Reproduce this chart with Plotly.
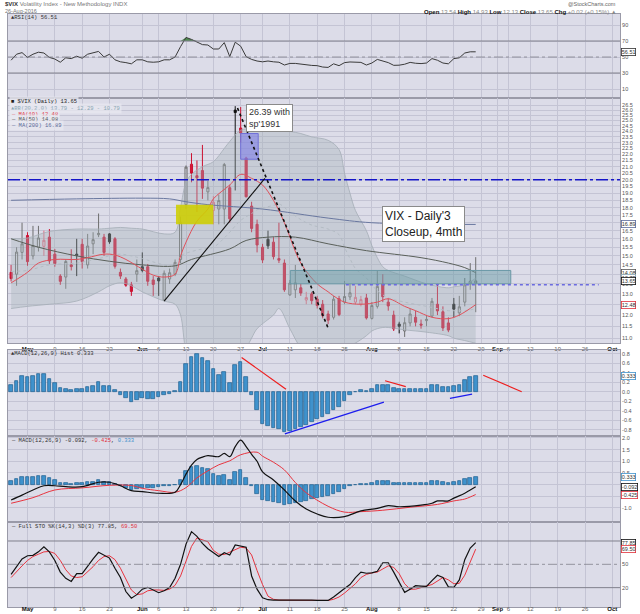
import math

import plotly.graph_objects as go
from plotly.subplots import make_subplots

# trading days shown on the chart
days = ["2016-04-27", "2016-04-28", "2016-04-29",
        "2016-05-02", "2016-05-03", "2016-05-04", "2016-05-05", "2016-05-06",
        "2016-05-09", "2016-05-10", "2016-05-11", "2016-05-12", "2016-05-13",
        "2016-05-16", "2016-05-17", "2016-05-18", "2016-05-19", "2016-05-20",
        "2016-05-23", "2016-05-24", "2016-05-25", "2016-05-26", "2016-05-27",
        "2016-05-31", "2016-06-01", "2016-06-02", "2016-06-03",
        "2016-06-06", "2016-06-07", "2016-06-08", "2016-06-09", "2016-06-10",
        "2016-06-13", "2016-06-14", "2016-06-15", "2016-06-16", "2016-06-17",
        "2016-06-20", "2016-06-21", "2016-06-22", "2016-06-23", "2016-06-24",
        "2016-06-27", "2016-06-28", "2016-06-29", "2016-06-30", "2016-07-01",
        "2016-07-05", "2016-07-06", "2016-07-07", "2016-07-08",
        "2016-07-11", "2016-07-12", "2016-07-13", "2016-07-14", "2016-07-15",
        "2016-07-18", "2016-07-19", "2016-07-20", "2016-07-21", "2016-07-22",
        "2016-07-25", "2016-07-26", "2016-07-27", "2016-07-28", "2016-07-29",
        "2016-08-01", "2016-08-02", "2016-08-03", "2016-08-04", "2016-08-05",
        "2016-08-08", "2016-08-09", "2016-08-10", "2016-08-11", "2016-08-12",
        "2016-08-15", "2016-08-16", "2016-08-17", "2016-08-18", "2016-08-19",
        "2016-08-22", "2016-08-23", "2016-08-24", "2016-08-25", "2016-08-26"]
holidays = ["2016-05-30", "2016-07-04", "2016-09-05"]

opens = [14.10, 14.00, 15.20, 16.20, 15.00, 15.50, 15.55, 16.10, 15.10, 13.90,
         13.85, 14.50, 15.10, 15.67, 14.50, 15.70, 16.25, 16.10, 16.30, 16.00,
         14.10, 13.75, 13.45, 14.00, 14.40, 14.40, 13.70, 13.80, 12.70, 13.75,
         14.00, 14.80, 18.20, 21.20, 20.30, 20.70, 19.10, 17.80, 17.90, 17.90,
         19.40, 26.00, 24.30, 21.70, 18.10, 16.90, 15.50, 15.97, 15.80, 14.85,
         14.60, 12.95, 13.20, 13.30, 12.70, 13.00, 12.75, 12.50, 12.05, 11.90,
         12.76, 12.60, 12.85, 12.60, 12.50, 12.80, 11.85, 12.40, 13.50, 12.60,
         12.00, 11.60, 11.30, 11.65, 11.90, 11.60, 11.75, 11.95, 12.50, 12.15,
         11.65, 12.50, 12.10, 12.60, 13.50, 13.54]
highs = [14.50, 15.50, 17.00, 16.40, 16.80, 16.80, 16.50, 16.60, 15.40, 14.00,
         14.80, 15.38, 16.00, 16.00, 16.30, 16.40, 17.60, 16.30, 16.35, 16.10,
         14.30, 13.85, 13.60, 14.80, 15.20, 14.55, 13.90, 13.90, 14.20, 14.30,
         14.80, 17.40, 21.10, 22.10, 21.50, 22.80, 19.90, 18.80, 18.90, 21.30,
         19.60, 26.39, 26.30, 21.80, 18.40, 17.20, 15.70, 16.50, 16.10, 17.00,
         14.80, 13.70, 14.50, 13.50, 13.10, 13.10, 12.90, 12.70, 12.20, 12.90,
         12.90, 13.65, 13.50, 13.40, 12.90, 13.00, 12.60, 14.20, 14.00, 12.80,
         12.20, 11.70, 11.90, 12.30, 12.20, 11.80, 12.00, 12.80, 13.50, 12.40,
         11.90, 12.80, 12.90, 13.80, 14.60, 14.93]
lows = [13.62, 13.40, 14.80, 14.45, 14.80, 15.25, 15.00, 14.55, 14.40, 13.45,
        13.25, 14.20, 13.90, 14.30, 14.30, 15.10, 16.10, 15.00, 15.70, 14.30,
        13.75, 13.35, 12.90, 13.60, 14.10, 13.40, 12.90, 12.90, 12.65, 13.50,
        13.90, 14.60, 17.90, 19.80, 17.70, 18.60, 18.50, 16.90, 16.90, 16.90,
        17.00, 19.20, 23.00, 18.70, 16.40, 15.20, 14.60, 15.40, 14.80, 14.60,
        13.10, 12.90, 12.80, 12.90, 12.50, 12.50, 12.30, 11.85, 11.60, 11.80,
        11.95, 12.50, 12.70, 12.50, 12.40, 11.80, 11.80, 12.30, 12.60, 12.20,
        11.30, 11.20, 11.05, 11.50, 11.50, 11.40, 11.50, 11.90, 12.00, 11.30,
        11.25, 11.90, 11.95, 12.40, 13.20, 12.13]
closes = [13.77, 15.22, 15.70, 14.68, 15.60, 16.05, 15.91, 14.72, 14.57, 13.63,
          14.69, 14.41, 15.04, 14.68, 15.57, 15.95, 16.33, 15.20, 15.82, 14.42,
          13.90, 13.43, 13.12, 14.19, 14.20, 13.63, 13.47, 13.65, 14.05, 14.08,
          14.64, 17.03, 20.97, 20.50, 20.14, 19.37, 19.41, 18.37, 18.48, 21.17,
          17.25, 25.76, 23.85, 18.75, 16.64, 15.63, 14.77, 15.58, 14.96, 14.76,
          13.20, 13.54, 13.55, 13.04, 12.82, 12.67, 12.44, 11.97, 11.77, 12.74,
          12.02, 12.87, 13.05, 12.83, 12.72, 11.87, 12.44, 13.37, 12.86, 12.42,
          11.39, 11.50, 11.66, 12.05, 11.68, 11.55, 11.81, 12.64, 12.19, 11.43,
          11.34, 12.27, 12.38, 13.45, 13.63, 13.65]

rsi = [46, 53.5, 55.5, 49.5, 53.5, 56, 55, 49.5, 47.5, 43.5,
       49, 48, 51, 48.5, 53.5, 55.5, 57, 50, 53.5, 46.5,
       44, 43, 41.5, 46.5, 46.5, 44, 43.5, 44, 46.5, 46.5,
       50, 63, 74.5, 72, 69, 65.5, 65, 60, 60, 68,
       50.5, 68.5, 63.5, 50.5, 47, 45, 44, 45, 44, 43.5,
       40, 42, 42, 41, 40, 39.5, 39.2, 37.5, 37, 41.5,
       39.2, 43, 43.8, 43.5, 43.3, 40, 42.5, 47, 45, 43,
       39.6, 39.8, 41, 43.3, 42.2, 41.8, 42.5, 48, 46, 42.5,
       41.5, 48, 49, 55, 56.5, 56.51]

macd_hist = [0.14, 0.225, 0.32, 0.31, 0.33, 0.37, 0.37, 0.27, 0.18, 0.07,
             0.05, 0.04, 0.05, 0.05, 0.10, 0.13, 0.20, 0.13, 0.13, 0.03,
             -0.07, -0.14, -0.22, -0.18, -0.14, -0.15, -0.16, -0.11, -0.07, -0.05,
             0.005, 0.21, 0.58, 0.74, 0.79, 0.72, 0.65, 0.47, 0.35, 0.42,
             0.18, 0.56, 0.63, 0.30, -0.07, -0.39, -0.67, -0.72, -0.76, -0.78,
             -0.855, -0.83, -0.79, -0.75, -0.70, -0.63, -0.57, -0.53, -0.47, -0.39,
             -0.32, -0.19, -0.07, -0.01, 0.035, 0.02, 0.05, 0.14, 0.15, 0.14,
             0.07, 0.05, 0.05, 0.05, 0.05, 0.055, 0.06, 0.14, 0.15, 0.10,
             0.09, 0.12, 0.15, 0.25, 0.30, 0.333]

sto_k = [37, 47, 57, 61, 61.5, 66, 72.6, 66, 55, 40,
         32, 28, 38, 38, 48, 57, 65.4, 62, 58, 45,
         33, 15, 6.5, 11, 18, 20.4, 17, 13.5, 16, 20,
         32, 50, 76, 92, 86, 77, 70, 65, 60, 65,
         62, 75, 73, 72, 35, 18, 7, 4.5, 4, 4,
         4, 4.5, 4, 4.5, 4, 4, 3.5, 3.5, 3.5, 8,
         14, 19, 24, 33, 40, 38.5, 39, 41, 52, 52,
         40, 27, 14, 18, 22.5, 22, 21.5, 29, 36, 33,
         21, 20.5, 30, 56, 71, 77.85]
sto_d = [33, 41, 48, 55, 60, 63, 66, 66.5, 64, 55,
         43, 35, 33, 34, 40, 47, 55, 60, 61, 56,
         45, 30, 17, 11, 12, 16, 17, 17, 16.5, 18,
         23, 35, 53, 73, 84, 82, 79, 68, 63, 62.5,
         66, 69, 72, 71, 62, 42, 24, 9, 5, 4,
         4, 4.2, 4.2, 4.2, 4, 4, 3.8, 3.6, 3.5, 5,
         8, 13, 19, 25, 33, 37, 39, 40, 44, 48,
         46, 38, 25, 18, 18, 20.5, 22, 24, 29, 33,
         30, 25, 25.5, 36, 53, 69.5]

macd_dates = ["2016-04-27", "2016-04-29", "2016-05-03", "2016-05-05", "2016-05-09",
              "2016-05-11", "2016-05-16", "2016-05-19", "2016-05-23", "2016-05-25",
              "2016-05-27", "2016-06-01", "2016-06-06", "2016-06-09", "2016-06-10",
              "2016-06-13", "2016-06-14", "2016-06-15", "2016-06-16", "2016-06-17",
              "2016-06-21", "2016-06-22", "2016-06-23", "2016-06-24", "2016-06-27",
              "2016-06-28", "2016-06-29", "2016-06-30", "2016-07-01", "2016-07-06",
              "2016-07-08", "2016-07-12", "2016-07-14", "2016-07-18", "2016-07-20",
              "2016-07-25", "2016-07-28", "2016-08-02", "2016-08-04", "2016-08-08",
              "2016-08-12", "2016-08-16", "2016-08-17", "2016-08-19", "2016-08-22",
              "2016-08-24", "2016-08-25", "2016-08-26"]
macd_line = [-0.66, -0.45, -0.23, -0.05, -0.05, -0.09, -0.09, 0.10, 0.10, -0.05,
             -0.26, -0.30, -0.37, -0.33, 0.0, 0.45, 0.84, 1.08, 1.18, 1.24,
             1.20, 1.34, 1.20, 1.63, 1.91, 1.63, 1.30, 1.00, 0.55, 0.20,
             -0.23, -0.70, -1.05, -1.26, -1.40, -1.37, -1.13, -1.02, -0.90, -0.95,
             -0.88, -0.80, -0.70, -0.70, -0.58, -0.37, -0.23, -0.092]
signal_dates = ["2016-04-27", "2016-05-03", "2016-05-09", "2016-05-16", "2016-05-23",
                "2016-05-27", "2016-06-01", "2016-06-06", "2016-06-09", "2016-06-13",
                "2016-06-15", "2016-06-17", "2016-06-21", "2016-06-23", "2016-06-27",
                "2016-06-30", "2016-07-01", "2016-07-06", "2016-07-08", "2016-07-12",
                "2016-07-14", "2016-07-20", "2016-07-25", "2016-07-28", "2016-08-03",
                "2016-08-10", "2016-08-17", "2016-08-22", "2016-08-24", "2016-08-25",
                "2016-08-26"]
signal_line = [-0.80, -0.56, -0.23, -0.14, -0.03, -0.04, -0.16, -0.26, -0.33, -0.13,
               0.29, 0.59, 0.85, 1.02, 1.28, 1.39, 1.22, 0.96, 0.63, 0.09,
               -0.35, -0.93, -1.18, -1.16, -1.10, -0.97, -0.85, -0.70, -0.62, -0.53,
               -0.425]

ma10_dates = ["2016-04-27", "2016-05-02", "2016-05-04", "2016-05-09", "2016-05-13",
              "2016-05-17", "2016-05-20", "2016-05-24", "2016-05-26", "2016-06-01",
              "2016-06-03", "2016-06-07", "2016-06-09", "2016-06-10", "2016-06-13",
              "2016-06-15", "2016-06-17", "2016-06-20", "2016-06-23", "2016-06-27",
              "2016-06-29", "2016-07-01", "2016-07-06", "2016-07-08", "2016-07-13",
              "2016-07-18", "2016-07-20", "2016-07-21", "2016-07-25", "2016-07-28",
              "2016-08-02", "2016-08-04", "2016-08-09", "2016-08-11", "2016-08-16",
              "2016-08-19", "2016-08-23", "2016-08-26"]
ma10 = [13.55, 14.1, 14.6, 14.8, 14.8, 14.9, 15.1, 15.05, 14.8, 14.27,
        13.95, 13.85, 14.0, 15.0, 15.8, 17.1, 17.9, 18.6, 19.6, 20.4,
        20.1, 19.6, 18.5, 17.0, 14.6, 13.5, 13.1, 12.9, 12.6, 12.5,
        12.6, 12.76, 12.4, 12.2, 11.9, 11.84, 12.0, 12.48]

ma50_dates = ["2016-04-27", "2016-05-04", "2016-05-13", "2016-05-23", "2016-06-01",
              "2016-06-09", "2016-06-14", "2016-06-23", "2016-06-28", "2016-07-05",
              "2016-07-12", "2016-07-20", "2016-07-29", "2016-08-12", "2016-08-19",
              "2016-08-24", "2016-08-26"]
ma50 = [16.0, 15.5, 15.0, 14.7, 14.5, 14.45, 14.8, 15.4, 15.9, 16.1,
        16.1, 15.7, 15.3, 14.9, 14.6, 14.35, 14.08]

ma200_dates = ["2016-04-27", "2016-05-13", "2016-06-01", "2016-06-08", "2016-06-13",
               "2016-06-17", "2016-07-01", "2016-07-20", "2016-08-01", "2016-08-26"]
ma200 = [18.5, 18.6, 18.65, 18.6, 18.4, 18.2, 17.9, 17.3, 17.0, 16.89]

bb_dates = ["2016-04-27", "2016-05-02", "2016-05-06", "2016-05-13", "2016-05-19",
            "2016-05-23", "2016-05-25", "2016-05-27", "2016-06-01", "2016-06-07",
            "2016-06-09", "2016-06-10", "2016-06-13", "2016-06-14", "2016-06-16",
            "2016-06-20", "2016-06-22", "2016-06-23", "2016-06-27", "2016-06-29",
            "2016-06-30", "2016-07-06", "2016-07-07", "2016-07-11", "2016-07-13",
            "2016-07-15", "2016-07-20", "2016-07-22", "2016-07-25", "2016-07-26",
            "2016-07-27", "2016-07-29", "2016-08-01", "2016-08-02", "2016-08-03",
            "2016-08-04", "2016-08-09", "2016-08-15", "2016-08-19", "2016-08-22",
            "2016-08-24", "2016-08-26"]
bb_upper = [16.0, 16.05, 16.45, 16.6, 16.6, 16.65, 16.7, 16.65, 16.6, 16.3,
            16.4, 18.0, 19.8, 20.4, 21.0, 21.4, 22.5, 23.1, 24.1, 24.25,
            24.3, 24.3, 24.2, 24.0, 23.8, 23.5, 23.2, 22.4, 20.5, 19.0,
            17.8, 16.5, 15.6, 14.9, 14.4, 14.2, 13.9, 13.5, 13.3, 13.35,
            13.45, 13.79]
bb_mid = [14.15, 14.2, 14.5, 14.6, 14.85, 15.0, 15.1, 15.0, 14.85, 14.5,
          14.45, 15.0, 15.15, 15.25, 15.4, 15.5, 16.05, 16.4, 17.15, 17.6,
          17.85, 18.15, 18.25, 17.7, 17.2, 16.85, 16.6, 16.25, 15.5, 14.85,
          14.3, 13.8, 13.45, 13.15, 12.95, 12.8, 12.6, 12.4, 12.2, 12.2,
          12.2, 12.29]
bb_lower = [12.3, 12.4, 12.5, 12.65, 13.1, 13.4, 13.55, 13.4, 13.1, 12.65,
            12.5, 12.0, 10.5, 10.1, 9.8, 9.6, 9.6, 9.7, 10.2, 11.0,
            11.4, 12.0, 12.3, 11.4, 10.6, 10.2, 10.0, 10.1, 10.5, 10.7,
            10.8, 11.1, 11.3, 11.4, 11.45, 11.45, 11.35, 11.25, 11.1, 11.0,
            10.9, 10.79]

tick_dates = ["2016-05-02", "2016-05-09", "2016-05-16", "2016-05-23", "2016-06-01",
              "2016-06-06", "2016-06-13", "2016-06-20", "2016-06-27", "2016-07-01",
              "2016-07-11", "2016-07-18", "2016-07-25", "2016-08-01", "2016-08-08",
              "2016-08-15", "2016-08-22", "2016-08-29", "2016-09-01", "2016-09-06",
              "2016-09-12", "2016-09-19", "2016-09-26", "2016-10-03"]
tick_text = ["May", "9", "16", "23", "Jun", "6", "13", "20", "27", "Jul",
             "11", "18", "25", "Aug", "8", "15", "22", "29", "Sep", "6",
             "12", "19", "26", "Oct"]
price_ticks = [11.0 + 0.5 * k for k in range(32)]
hist_ticks = [-0.8, -0.6, -0.4, -0.2, 0.0, 0.2, 0.4, 0.6, 0.8]
macd_ticks = [-1.0, -0.5, 0.0, 0.5, 1.0, 1.5, 2.0]

BG = "#dcdce8"
GRID = "#c4c4d4"
BORDER = "#9a9aa8"
RED = "#e8343f"
DAY = 86400000

fig = make_subplots(rows=5, cols=1, shared_xaxes=True, vertical_spacing=0)

# ---- RSI
over = [max(v, 70) for v in rsi[31:36]]
fig.add_trace(go.Scatter(x=days[31:36], y=[70] * 5, mode="lines", line=dict(width=0),
                         hoverinfo="skip"), row=1, col=1)
fig.add_trace(go.Scatter(x=days[31:36], y=over, mode="lines", line=dict(width=0),
                         fill="tonexty", fillcolor="#4f8a4f", hoverinfo="skip"), row=1, col=1)
fig.add_trace(go.Scatter(x=days, y=rsi, mode="lines", line=dict(color="#3a3a3a", width=1)),
              row=1, col=1)

# ---- price panel
fig.add_trace(go.Scatter(x=bb_dates, y=bb_upper, mode="lines", line_shape="spline",
                         line=dict(color="#a4adb6", width=0.8)), row=2, col=1)
fig.add_trace(go.Scatter(x=bb_dates, y=bb_lower, mode="lines", line_shape="spline",
                         line=dict(color="#a4adb6", width=0.8), fill="tonexty",
                         fillcolor="rgba(165,180,185,0.38)"), row=2, col=1)
fig.add_trace(go.Scatter(x=bb_dates, y=bb_mid, mode="lines", line_shape="spline",
                         line=dict(color="#b4bcc4", width=1, dash="dot")), row=2, col=1)
fig.add_trace(go.Scatter(x=ma200_dates, y=ma200, mode="lines", line_shape="spline",
                         line=dict(color="#6a78a0", width=1)), row=2, col=1)
fig.add_trace(go.Scatter(x=ma50_dates, y=ma50, mode="lines", line_shape="spline",
                         line=dict(color="#5a605a", width=1)), row=2, col=1)
fig.add_trace(go.Scatter(x=ma10_dates, y=ma10, mode="lines", line_shape="spline",
                         line=dict(color="#e0505a", width=1)), row=2, col=1)

candle_styles = {
    "red_solid": ("#cc1030", "#d4163a"),
    "black_solid": ("#111111", "#111111"),
    "gray_hollow": ("#6e6e6e", "rgba(0,0,0,0)"),
    "red_hollow": ("#e06a80", "rgba(0,0,0,0)"),
}
groups = {k: [] for k in candle_styles}
for i, c in enumerate(closes):
    prev = closes[i - 1] if i else opens[0]
    if c > opens[i]:
        key = "gray_hollow" if c >= prev else "red_hollow"
    else:
        key = "black_solid" if c >= prev else "red_solid"
    groups[key].append(i)

for key, idx in groups.items():
    line_c, fill_c = candle_styles[key]
    side = dict(line=dict(color=line_c, width=1), fillcolor=fill_c)
    fig.add_trace(go.Candlestick(x=[days[i] for i in idx],
                                 open=[opens[i] for i in idx],
                                 high=[highs[i] for i in idx],
                                 low=[lows[i] for i in idx],
                                 close=[closes[i] for i in idx],
                                 increasing=side, decreasing=side,
                                 whiskerwidth=0, hoverinfo="skip"), row=2, col=1)

# ---- MACD histogram panel and MACD panel
for r in (3, 4):
    fig.add_trace(go.Bar(x=days, y=macd_hist, width=0.66 * DAY,
                         marker=dict(color="#3f92cc", line=dict(color="#1d5f8e", width=0.7))),
                  row=r, col=1)
fig.add_trace(go.Scatter(x=signal_dates, y=signal_line, mode="lines", line_shape="spline",
                         line=dict(color=RED, width=1)), row=4, col=1)
fig.add_trace(go.Scatter(x=macd_dates, y=macd_line, mode="lines", line_shape="spline",
                         line=dict(color="#111111", width=1.2)), row=4, col=1)

# ---- stochastics
fig.add_trace(go.Scatter(x=days, y=sto_d, mode="lines", line=dict(color=RED, width=1)),
              row=5, col=1)
fig.add_trace(go.Scatter(x=days, y=sto_k, mode="lines", line=dict(color="#111111", width=1.2)),
              row=5, col=1)

# ---- axes
ticktext_html = [("<b>%s</b>" % t) if not t.isdigit() else
                 ("<span style='color:#666'>%s</span>" % t) for t in tick_text]
fig.update_xaxes(type="date", range=["2016-04-26 10:20", "2016-10-04 09:36"],
                 rangebreaks=[dict(bounds=["sat", "mon"]), dict(values=holidays)],
                 tickvals=tick_dates, ticktext=ticktext_html, showticklabels=False,
                 tickfont=dict(size=6, color="#111"), ticks="", automargin=False,
                 showgrid=True, gridcolor=GRID, gridwidth=0.7,
                 showline=True, linecolor=BORDER, mirror=True, zeroline=False,
                 rangeslider_visible=False)
fig.update_xaxes(showticklabels=True, row=2, col=1)
fig.update_xaxes(showticklabels=True, ticklabelstandoff=-4, row=5, col=1)

fig.update_yaxes(side="right", ticks="", tickfont=dict(size=5.5, color="#555"),
                 showgrid=True, gridcolor=GRID, gridwidth=0.7, zeroline=False,
                 showline=True, linecolor=BORDER, mirror=True, automargin=False)
fig.update_yaxes(range=[-1.25, 103.75], tickvals=[10, 30, 50, 70, 90], row=1, col=1)
fig.update_yaxes(type="log", range=[math.log10(10.8), math.log10(27.21)],
                 tickvals=price_ticks, ticktext=["%.1f" % v for v in price_ticks],
                 row=2, col=1)
fig.update_yaxes(range=[-0.933, 0.878], tickvals=hist_ticks,
                 ticktext=["%.1f" % v for v in hist_ticks], row=3, col=1)
fig.update_yaxes(range=[-1.605, 2.086], tickvals=macd_ticks,
                 ticktext=["%.1f" % v for v in macd_ticks], row=4, col=1)
fig.update_yaxes(range=[-4.9, 104.4], tickvals=[20, 50, 80], showgrid=False, row=5, col=1)

# ---- drawn lines and boxes
shapes = []
for yref, lvl_solid, lvl_dash in (("y", (70, 30), 50), ("y5", (80, 20), 50)):
    for v in lvl_solid:
        shapes.append(dict(type="line", xref="paper", x0=0, x1=1, yref=yref, y0=v, y1=v,
                           line=dict(color="#80808c", width=1)))
    shapes.append(dict(type="line", xref="paper", x0=0, x1=1, yref=yref, y0=lvl_dash,
                       y1=lvl_dash, line=dict(color="#80808c", width=0.8, dash="dashdot")))

shapes += [
    dict(type="line", xref="paper", x0=0, x1=1, yref="y2", y0=20.0, y1=20.0,
         line=dict(color="#1414c8", width=1.5, dash="12px,3px,3px,3px")),
    dict(type="rect", xref="x2", yref="y2", x0="2016-06-09 04:00", x1="2016-06-20 00:00",
         y0=16.9, y1=18.2, fillcolor="rgba(206,206,0,0.88)", line=dict(width=0)),
    dict(type="rect", xref="x2", yref="y2", x0="2016-06-27 00:00", x1="2016-06-30 05:00",
         y0=21.6, y1=23.8, fillcolor="rgba(125,125,230,0.6)",
         line=dict(color="#7070d8", width=1)),
    dict(type="rect", xref="x2", yref="y2", x0="2016-07-11 02:00", x1="2016-09-06 10:00",
         y0=13.5, y1=14.2, fillcolor="rgba(105,155,165,0.5)",
         line=dict(color="#6a98a6", width=1)),
    dict(type="line", xref="x2", yref="y2", x0="2016-07-25 06:00", x1="2016-09-28 12:00",
         y0=13.45, y1=13.45, line=dict(color="#6b6be0", width=1.5, dash="dot")),
    dict(type="line", xref="x2", yref="y2", x0="2016-06-07 00:00", y0=12.65,
         x1="2016-07-01 10:00", y1=20.1, line=dict(color="#111", width=1.1)),
    dict(type="line", xref="x2", yref="y2", x0="2016-06-24 10:00", y0=26.2,
         x1="2016-07-20 01:00", y1=11.4, line=dict(color="#111", width=1.6, dash="dot")),
    dict(type="line", xref="x3", yref="y3", x0="2016-06-27 04:00", y0=0.72,
         x1="2016-07-08 07:00", y1=0.05, line=dict(color="#ee1c1c", width=1.2)),
    dict(type="line", xref="x3", yref="y3", x0="2016-07-08 02:00", y0=-0.89,
         x1="2016-08-03 05:00", y1=-0.22, line=dict(color="#1c1cee", width=1.2)),
    dict(type="line", xref="x3", yref="y3", x0="2016-08-03 10:00", y0=0.23,
         x1="2016-08-09 05:00", y1=0.105, line=dict(color="#ee1c1c", width=1.2)),
    dict(type="line", xref="x3", yref="y3", x0="2016-08-19 07:00", y0=-0.14,
         x1="2016-08-25 08:00", y1=-0.05, line=dict(color="#1c1cee", width=1.2)),
    dict(type="line", xref="x3", yref="y3", x0="2016-08-29 09:00", y0=0.345,
         x1="2016-09-08 10:00", y1=0.0, line=dict(color="#ee1c1c", width=1.2)),
]

# ---- texts
MONO = "Liberation Mono"
ann = []


def txt(x, y, text, size=5.5, color="#333", family=MONO, anchor="left", **kw):
    ann.append(dict(xref="paper", yref="paper", x=x, y=y, text=text, showarrow=False,
                    xanchor=anchor, yanchor="middle", font=dict(size=size, color=color,
                                                                family=family), **kw))


def px(xp, yp):
    return (xp - 8) / 612.0, (607 - yp) / 593.0


x, y = px(3, 4)
txt(x, y, "<b>$VIX</b> <span style='color:#777'>Volatility Index - New Methodology INDX</span>",
    size=6, family="Liberation Sans")
x, y = px(3, 11.5)
txt(x, y, "26-Aug-2016", size=5.5, color="#777", family="Liberation Sans")
x, y = px(618, 4)
txt(x, y, "@StockCharts.com", size=5.5, color="#666", family="Liberation Sans", anchor="right")
x, y = px(619, 12)
txt(x, y, "<b>Open</b> <span style='color:#888'>13.54</span> <b>High</b> "
          "<span style='color:#888'>14.93</span> <b>Low</b> <span style='color:#888'>12.13</span> "
          "<b>Close</b> <span style='color:#888'>13.65</span> <b>Chg</b> "
          "<span style='color:#888'>+0.02 (+0.15%) ▲</span>",
    size=6, color="#111", family="Liberation Sans", anchor="right")

x, y = px(9, 18)
txt(x, y, "▲RSI(14) 56.51")
legend_rows = [(102, "■ $VIX (Daily) 13.65", "#222"),
               (108.5, "▲BB(20,2.0) 13.79 - 12.29 - 10.79", "#8aa6b4"),
               (114, "<span style='color:#e0303a'>—</span> MA(10) 12.48", "#e0303a"),
               (119.5, "— MA(50) 14.08", "#555"),
               (125, "— MA(200) 16.89", "#5a6a98")]
for yp, t, col in legend_rows:
    x, y = px(9, yp)
    txt(x, y, t, color=col, bgcolor="rgba(232,232,240,0.75)")
x, y = px(9, 354)
txt(x, y, "▲MACD(12,26,9) Hist 0.333")
x, y = px(9, 440)
txt(x, y, "— MACD(12,26,9) -0.092, <span style='color:#e0303a'>-0.425</span>, "
          "<span style='color:#3f92cc'>0.333</span>")
x, y = px(9, 526)
txt(x, y, "— Full STO %K(14,3) %D(3) 77.85, <span style='color:#e0303a'>69.50</span>")

# right-edge value tags
tags = [("y", 56.51, "56.51", "#333"),
        ("y2", math.log10(16.89), "16.89", "#5a6a98"),
        ("y2", math.log10(14.08), "14.08", "#555"),
        ("y2", math.log10(13.79), "13.79", "#8aa6b4"),
        ("y2", math.log10(13.62), "13.65", "#111"),
        ("y2", math.log10(12.48), "12.48", "#e0303a"),
        ("y3", 0.333, "0.333", "#3f92cc"),
        ("y4", 0.333, "0.333", "#3f92cc"),
        ("y4", -0.092, "-0.092", "#111"),
        ("y4", -0.425, "-0.425", "#e0303a"),
        ("y5", 77.85, "77.85", "#111"),
        ("y5", 69.5, "69.50", "#e0303a")]
for yref, yv, t, col in tags:
    ann.append(dict(xref="paper", yref=yref, x=1.002, y=yv, text=t, showarrow=False,
                    xanchor="left", yanchor="middle", bgcolor="white", bordercolor=col,
                    borderwidth=0.8, borderpad=0, font=dict(size=5.5, color="#333",
                                                             family="Liberation Sans")))

# call-out boxes
x, y = px(269.5, 118.3)
ann.append(dict(xref="paper", yref="paper", x=x, y=y, showarrow=False, align="left",
                xanchor="center", yanchor="middle",
                text="26.39 with<br>sp'1991", bgcolor="white", bordercolor="#8a8a8a",
                borderwidth=1, borderpad=2, font=dict(size=9, color="#333",
                                                      family="Liberation Sans")))
x, y = px(423.8, 223.8)
ann.append(dict(xref="paper", yref="paper", x=x, y=y, showarrow=False, align="left",
                xanchor="center", yanchor="middle",
                text="VIX - Daily'3<br>Closeup, 4mth", bgcolor="white",
                bordercolor="#8a8a8a", borderwidth=1, borderpad=2,
                font=dict(size=12, color="#222", family="Liberation Sans")))

fig.update_layout(
    width=640, height=614,
    margin=dict(l=8, r=20, t=14, b=7, autoexpand=False),
    paper_bgcolor="white", plot_bgcolor=BG,
    showlegend=False, bargap=0, boxgap=0.45,
    font=dict(family="Liberation Sans", size=6, color="#444"),
    yaxis=dict(domain=[0.8583, 1.0]),
    yaxis2=dict(domain=[0.4452, 0.8583]),
    yaxis3=dict(domain=[0.2884, 0.4334]),
    yaxis4=dict(domain=[0.1433, 0.2884]),
    yaxis5=dict(domain=[0.0, 0.1433]),
    shapes=shapes, annotations=ann,
)

# the page body gets no margin so the figure sits at the window's corner
fig.write_html("out.html", config={"displayModeBar": False},
               post_script="document.body.style.margin='0px';")
